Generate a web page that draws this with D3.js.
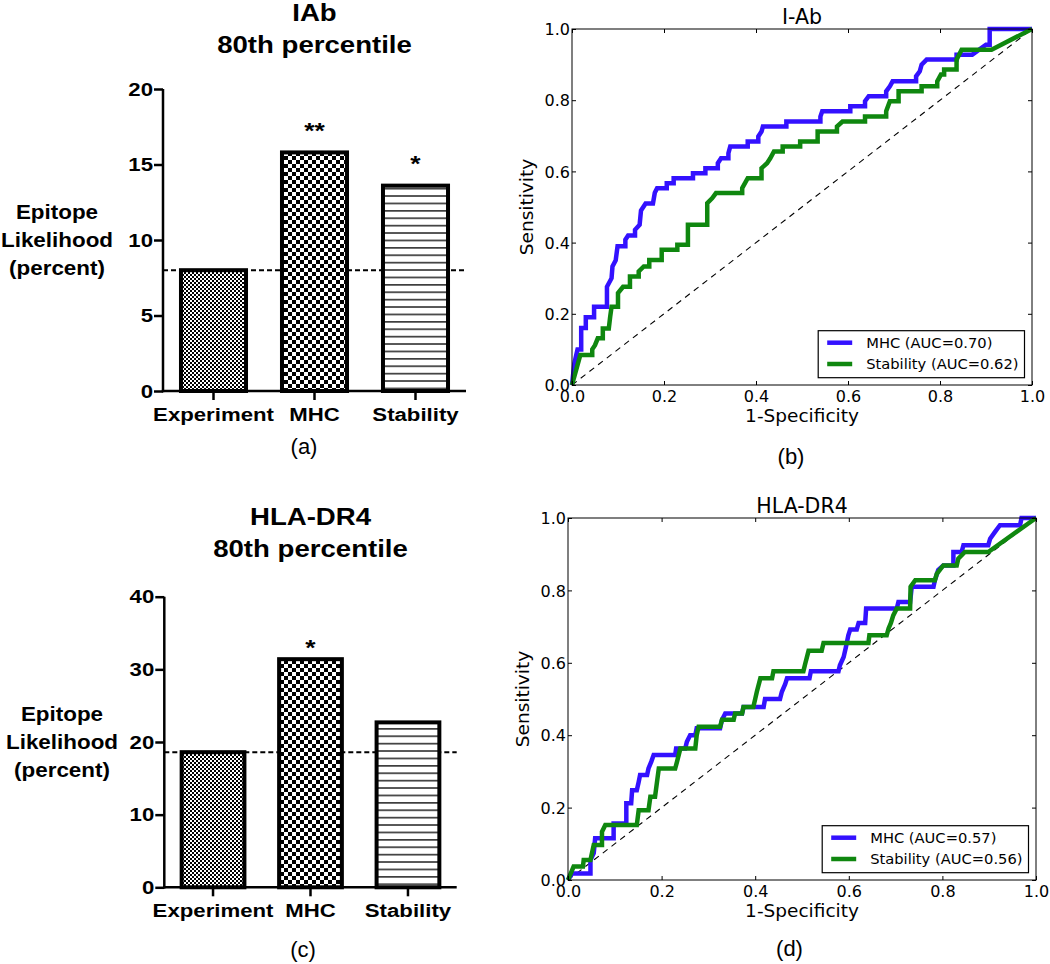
<!DOCTYPE html>
<html>
<head>
<meta charset="utf-8">
<script src="https://cdn.jsdelivr.net/npm/d3@7"></script>
<style>
  html, body { margin: 0; padding: 0; background: #fff; }
  svg { display: block; }
</style>
</head>
<body>
<script>
// ---------------- DATA ----------------
const barCategories = ["Experiment", "MHC", "Stability"];

const iabBarValues = [8.0, 15.8, 13.6];
const iabBaseline = 8.0;
const iabStars = ["", "**", "*"];
const iabBarTicks = [0, 5, 10, 15, 20];
const iabBarMax = 20;
const iabBarTitle = ["IAb", "80th percentile"];

const dr4BarValues = [18.6, 31.4, 22.7];
const dr4Baseline = 18.6;
const dr4Stars = ["", "*", ""];
const dr4BarTicks = [0, 10, 20, 30, 40];
const dr4BarMax = 40;
const dr4BarTitle = ["HLA-DR4", "80th percentile"];

const yLabelLines = ["Epitope", "Likelihood", "(percent)"];

const rocTicks = [0, 0.2, 0.4, 0.6, 0.8, 1.0];
const rocSeriesNames = ["MHC", "Stability"];

const iabRocTitle = "I-Ab";
const iabAuc = ["0.70", "0.62"];
const iabMhcRoc = [[0,0],[0.005,0.06],[0.012,0.10],[0.02,0.10],[0.02,0.16],[0.03,0.16],[0.03,0.19],[0.048,0.19],[0.048,0.22],[0.076,0.22],[0.076,0.276],[0.086,0.30],[0.088,0.333],[0.095,0.35],[0.099,0.39],[0.116,0.39],[0.116,0.408],[0.122,0.42],[0.137,0.42],[0.137,0.436],[0.147,0.45],[0.150,0.49],[0.160,0.51],[0.176,0.51],[0.18,0.54],[0.185,0.553],[0.206,0.553],[0.206,0.567],[0.221,0.567],[0.221,0.581],[0.263,0.581],[0.263,0.595],[0.29,0.595],[0.29,0.609],[0.317,0.609],[0.317,0.623],[0.324,0.637],[0.34,0.637],[0.34,0.651],[0.344,0.67],[0.382,0.67],[0.382,0.684],[0.405,0.684],[0.405,0.698],[0.412,0.712],[0.415,0.726],[0.466,0.726],[0.466,0.74],[0.54,0.74],[0.54,0.754],[0.544,0.769],[0.605,0.769],[0.605,0.783],[0.637,0.783],[0.637,0.797],[0.645,0.811],[0.683,0.811],[0.683,0.825],[0.691,0.839],[0.697,0.853],[0.748,0.853],[0.748,0.867],[0.756,0.881],[0.760,0.900],[0.771,0.914],[0.836,0.914],[0.836,0.928],[0.87,0.928],[0.90,0.956],[0.908,0.956],[0.908,1.0],[1,1]];
const iabStabRoc = [[0,0],[0.018,0.084],[0.044,0.084],[0.044,0.10],[0.05,0.112],[0.056,0.131],[0.067,0.131],[0.067,0.159],[0.08,0.159],[0.083,0.192],[0.086,0.22],[0.10,0.22],[0.10,0.258],[0.111,0.276],[0.126,0.276],[0.126,0.305],[0.145,0.305],[0.145,0.319],[0.156,0.333],[0.168,0.333],[0.168,0.351],[0.195,0.351],[0.195,0.38],[0.229,0.38],[0.229,0.394],[0.252,0.394],[0.252,0.45],[0.294,0.45],[0.294,0.511],[0.305,0.525],[0.313,0.539],[0.370,0.539],[0.370,0.553],[0.382,0.581],[0.412,0.581],[0.412,0.609],[0.424,0.623],[0.431,0.637],[0.439,0.656],[0.458,0.656],[0.458,0.670],[0.496,0.670],[0.496,0.684],[0.534,0.684],[0.534,0.712],[0.576,0.712],[0.576,0.726],[0.588,0.74],[0.637,0.74],[0.637,0.754],[0.683,0.754],[0.683,0.769],[0.691,0.797],[0.710,0.797],[0.710,0.825],[0.760,0.825],[0.760,0.839],[0.794,0.839],[0.794,0.853],[0.802,0.872],[0.809,0.872],[0.809,0.886],[0.836,0.886],[0.836,0.914],[0.847,0.942],[0.912,0.942],[1,1]];

const dr4RocTitle = "HLA-DR4";
const dr4Auc = ["0.57", "0.56"];
const dr4MhcRoc = [[0,0],[0.0085,0.018],[0.048,0.018],[0.048,0.055],[0.055,0.074],[0.058,0.115],[0.0975,0.115],[0.0975,0.156],[0.1246,0.156],[0.1246,0.212],[0.135,0.212],[0.137,0.248],[0.147,0.248],[0.151,0.271],[0.154,0.29],[0.169,0.29],[0.172,0.308],[0.178,0.327],[0.183,0.345],[0.229,0.345],[0.231,0.363],[0.2505,0.363],[0.254,0.382],[0.261,0.40],[0.272,0.40],[0.275,0.419],[0.325,0.419],[0.329,0.442],[0.336,0.46],[0.372,0.46],[0.375,0.478],[0.418,0.478],[0.421,0.50],[0.453,0.50],[0.457,0.52],[0.464,0.541],[0.468,0.557],[0.516,0.557],[0.519,0.577],[0.578,0.577],[0.581,0.593],[0.589,0.616],[0.594,0.644],[0.599,0.676],[0.603,0.692],[0.617,0.692],[0.621,0.710],[0.635,0.710],[0.637,0.75],[0.7025,0.75],[0.706,0.768],[0.731,0.768],[0.7345,0.81],[0.781,0.81],[0.784,0.828],[0.791,0.856],[0.802,0.869],[0.8235,0.869],[0.8235,0.906],[0.841,0.906],[0.845,0.925],[0.898,0.925],[0.902,0.943],[0.912,0.961],[0.923,0.98],[0.966,0.98],[0.969,1.0],[1,1]];
const dr4StabRoc = [[0,0],[0.012,0.037],[0.032,0.037],[0.0335,0.055],[0.048,0.055],[0.055,0.097],[0.0726,0.097],[0.0726,0.133],[0.0797,0.152],[0.147,0.152],[0.151,0.193],[0.172,0.193],[0.176,0.23],[0.186,0.23],[0.194,0.308],[0.229,0.308],[0.233,0.327],[0.24,0.363],[0.272,0.363],[0.275,0.40],[0.279,0.423],[0.325,0.423],[0.329,0.443],[0.354,0.443],[0.357,0.46],[0.372,0.46],[0.375,0.478],[0.396,0.478],[0.40,0.50],[0.4035,0.52],[0.411,0.557],[0.436,0.557],[0.439,0.577],[0.503,0.577],[0.507,0.598],[0.514,0.633],[0.542,0.633],[0.546,0.655],[0.642,0.655],[0.644,0.676],[0.681,0.676],[0.685,0.695],[0.69,0.71],[0.695,0.731],[0.7025,0.75],[0.731,0.75],[0.732,0.81],[0.742,0.828],[0.784,0.828],[0.788,0.846],[0.802,0.869],[0.8306,0.869],[0.834,0.888],[0.848,0.906],[0.898,0.906],[1,1]];

// ---------------- STYLE ----------------
const W = 1050, H = 964;
const BAR_FONT = "'Liberation Sans', Arial, sans-serif";
const ROC_FONT = "'DejaVu Sans', sans-serif";
const SX = 1.2; // horizontal stretch of the bar-panel lettering
const BLUE = "#3311ff", GREEN = "#0f870f";

const svg = d3.select("body").append("svg").attr("width", W).attr("height", H);
svg.append("rect").attr("width", W).attr("height", H).attr("fill", "#fff");

// patterns
const defs = svg.append("defs");
const pExp = defs.append("pattern").attr("id", "pExp").attr("patternUnits", "userSpaceOnUse").attr("width", 4).attr("height", 4);
pExp.append("rect").attr("width", 4).attr("height", 4).attr("fill", "#fff");
pExp.append("rect").attr("width", 2).attr("height", 2).attr("fill", "#000");
pExp.append("rect").attr("x", 2).attr("y", 2).attr("width", 2).attr("height", 2).attr("fill", "#000");
const pMhc = defs.append("pattern").attr("id", "pMhc").attr("patternUnits", "userSpaceOnUse").attr("width", 8).attr("height", 8);
pMhc.append("rect").attr("width", 8).attr("height", 8).attr("fill", "#fff");
pMhc.append("rect").attr("width", 4).attr("height", 4).attr("fill", "#000");
pMhc.append("rect").attr("x", 4).attr("y", 4).attr("width", 4).attr("height", 4).attr("fill", "#000");
const pStab = defs.append("pattern").attr("id", "pStab").attr("patternUnits", "userSpaceOnUse").attr("width", 8).attr("height", 7.4);
pStab.append("rect").attr("width", 8).attr("height", 7.4).attr("fill", "#fff");
pStab.append("rect").attr("y", 3).attr("width", 8).attr("height", 1.3).attr("fill", "#000");
const patternIds = ["pExp", "pMhc", "pStab"];

function txt(g, x, y, s, o) {
  return g.append("text")
    .attr("transform", `translate(${x},${y}) scale(${o.sx || 1},1)` + (o.rotate ? ` rotate(${o.rotate})` : ""))
    .attr("text-anchor", o.anchor || "middle")
    .attr("font-family", o.family)
    .attr("font-size", o.size)
    .attr("font-weight", o.weight || "normal")
    .attr("fill", "#000")
    .text(s);
}

// ---------------- BAR PANELS ----------------
function drawBarPanel(cfg) {
  const g = svg.append("g");
  const L = cfg.layout;
  const y = d3.scaleLinear().domain([0, cfg.max]).range([L.y0, L.yTop]);
  const x = d3.scaleBand().domain(barCategories).range([L.axisX, L.axisRight])
    .paddingInner(0.356).paddingOuter(0.178);

  // baseline dashed line (behind bars)
  g.append("line")
    .attr("x1", L.axisX).attr("x2", L.axisRight)
    .attr("y1", y(cfg.baseline)).attr("y2", y(cfg.baseline))
    .attr("stroke", "#000").attr("stroke-width", 2).attr("stroke-dasharray", "5,3");

  // bars
  g.selectAll("rect.bar").data(cfg.values).join("rect").attr("class", "bar")
    .attr("x", (d, i) => x(barCategories[i]))
    .attr("y", d => y(d))
    .attr("width", x.bandwidth())
    .attr("height", d => y(0) - y(d))
    .attr("fill", (d, i) => `url(#${patternIds[i]})`)
    .attr("stroke", "#000").attr("stroke-width", 4);

  // axes
  const ya = g.append("g").attr("transform", `translate(${L.axisX},0)`)
    .call(d3.axisLeft(y).tickValues(cfg.ticks).tickSize(9).tickSizeOuter(0).tickFormat(""));
  const xa = g.append("g").attr("transform", `translate(0,${L.y0})`)
    .call(d3.axisBottom(x).tickSize(9).tickSizeOuter(0).tickFormat(""));
  [ya, xa].forEach(a => {
    a.selectAll("path, line").attr("stroke", "#000").attr("stroke-width", 2.5);
  });
  ya.select("path.domain").attr("d", `M0,${L.y0 + 1.25}V${L.yTop}`);
  xa.select("path.domain").attr("d", `M${L.axisX - 1.25},0H${L.axisRight}`);

  // tick labels
  cfg.ticks.forEach(t => txt(g, L.axisX - 10, y(t) + 6.6, String(t),
    { family: BAR_FONT, size: 18.5, weight: "bold", anchor: "end", sx: SX }));
  barCategories.forEach(c => txt(g, x(c) + x.bandwidth() / 2, L.y0 + 29.5, c,
    { family: BAR_FONT, size: 18.5, weight: "bold", sx: SX }));

  // significance stars
  cfg.stars.forEach((s, i) => {
    if (!s) return;
    txt(g, x(barCategories[i]) + x.bandwidth() / 2, y(cfg.values[i]) - cfg.starGap, s,
      { family: BAR_FONT, size: 22, weight: "bold", sx: SX });
  });

  // y label
  const ymid = (L.y0 + L.yTop) / 2;
  yLabelLines.forEach((s, i) => txt(g, L.ylabX, ymid + 7 + (i - 1) * 28, s,
    { family: BAR_FONT, size: 19.5, weight: "bold", sx: 1.15 }));

  // title
  const tx = (L.axisX + L.axisRight) / 2;
  txt(g, tx, L.title1Y, cfg.title[0], { family: BAR_FONT, size: 23, weight: "bold", sx: 1.2 });
  txt(g, tx, L.title2Y, cfg.title[1], { family: BAR_FONT, size: 23, weight: "bold", sx: 1.2 });

  // panel letter
  txt(g, L.letterX, L.letterY, cfg.letter, { family: BAR_FONT, size: 22 });
}

drawBarPanel({
  values: iabBarValues, baseline: iabBaseline, stars: iabStars, ticks: iabBarTicks, max: iabBarMax,
  title: iabBarTitle, letter: "(a)", starGap: 14.5,
  layout: { axisX: 163, axisRight: 466, y0: 391, yTop: 89, ylabX: 57, title1Y: 21, title2Y: 53.3, letterX: 304, letterY: 453.5 }
});
drawBarPanel({
  values: dr4BarValues, baseline: dr4Baseline, stars: dr4Stars, ticks: dr4BarTicks, max: dr4BarMax,
  title: dr4BarTitle, letter: "(c)", starGap: 3.7,
  layout: { axisX: 164.3, axisRight: 456.7, y0: 887.3, yTop: 596.7, ylabX: 62, title1Y: 525, title2Y: 556.7, letterX: 303, letterY: 957 }
});

// ---------------- ROC PANELS ----------------
function drawRocPanel(cfg) {
  const g = svg.append("g");
  const F = cfg.frame;
  const x = d3.scaleLinear().domain([0, 1]).range([F.x0, F.x1]);
  const y = d3.scaleLinear().domain([0, 1]).range([F.y1, F.y0]);

  // chance diagonal
  g.append("line")
    .attr("x1", x(0)).attr("y1", y(0)).attr("x2", x(1)).attr("y2", y(1))
    .attr("stroke", "#000").attr("stroke-width", 1.1).attr("stroke-dasharray", "6,5");

  const line = d3.line().x(d => x(d[0])).y(d => y(d[1]));
  const series = [cfg.mhc, cfg.stab];
  const colors = [BLUE, GREEN];
  series.forEach((s, i) => {
    g.append("path").attr("d", line(s)).attr("fill", "none")
      .attr("stroke", colors[i]).attr("stroke-width", 4.5)
      .attr("stroke-linejoin", "miter").attr("stroke-linecap", "butt");
  });

  // frame
  g.append("rect").attr("x", F.x0).attr("y", F.y0).attr("width", F.x1 - F.x0).attr("height", F.y1 - F.y0)
    .attr("fill", "none").attr("stroke", "#000").attr("stroke-width", 1);

  const fmt = d3.format(".1f");
  const axB = g.append("g").attr("transform", `translate(0,${F.y1})`)
    .call(d3.axisBottom(x).tickValues(rocTicks).tickSize(-4).tickSizeOuter(0).tickPadding(6).tickFormat(fmt));
  const axT = g.append("g").attr("transform", `translate(0,${F.y0})`)
    .call(d3.axisTop(x).tickValues(rocTicks).tickSize(-4).tickSizeOuter(0).tickFormat(""));
  const axL = g.append("g").attr("transform", `translate(${F.x0},0)`)
    .call(d3.axisLeft(y).tickValues(rocTicks).tickSize(-4).tickSizeOuter(0).tickPadding(2).tickFormat(fmt));
  const axR = g.append("g").attr("transform", `translate(${F.x1},0)`)
    .call(d3.axisRight(y).tickValues(rocTicks).tickSize(-4).tickSizeOuter(0).tickFormat(""));
  [axB, axT, axL, axR].forEach(a => {
    a.select("path.domain").remove();
    a.selectAll("line").attr("stroke", "#000").attr("stroke-width", 1);
    a.selectAll("text").attr("font-family", ROC_FONT).attr("font-size", 16).attr("fill", "#000");
  });
  axL.selectAll("text").attr("dy", "0.36em");

  // labels
  const cx = (F.x0 + F.x1) / 2;
  txt(g, cx, F.y0 - 5.5, cfg.title, { family: ROC_FONT, size: 20.5 });
  txt(g, cx, F.y1 + 36.5, "1-Specificity", { family: ROC_FONT, size: 18.5 });
  txt(g, F.x0 - 39, (F.y0 + F.y1) / 2, "Sensitivity", { family: ROC_FONT, size: 18.5, rotate: -90 });

  // legend
  const lg = g.append("g");
  const labels = rocSeriesNames.map((n, i) => `${n} (AUC=${cfg.auc[i]})`);
  const texts = labels.map((l, i) => lg.append("text").attr("font-family", ROC_FONT).attr("font-size", 14.7)
    .attr("fill", "#000").text(l));
  const tw = d3.max(texts, t => t.node().getComputedTextLength());
  const bw = 48 + tw + 6, bh = 47;
  const bx = F.x1 - 7.5 - bw, by = F.y1 - 7.3 - bh;
  lg.insert("rect", "text").attr("x", bx).attr("y", by).attr("width", bw).attr("height", bh)
    .attr("fill", "#fff").attr("stroke", "#000").attr("stroke-width", 1.2);
  [12, 33.3].forEach((dy, i) => {
    lg.append("line").attr("x1", bx + 9).attr("x2", bx + 34).attr("y1", by + dy).attr("y2", by + dy)
      .attr("stroke", colors[i]).attr("stroke-width", 4.5);
    texts[i].attr("x", bx + 48).attr("y", by + dy).attr("dy", "0.36em");
  });

  txt(g, cfg.letterX, cfg.letterY, cfg.letter, { family: BAR_FONT, size: 22 });
}

drawRocPanel({
  frame: { x0: 572, x1: 1032, y0: 29, y1: 385 },
  mhc: iabMhcRoc, stab: iabStabRoc, auc: iabAuc, title: iabRocTitle,
  letter: "(b)", letterX: 791, letterY: 464
});
drawRocPanel({
  frame: { x0: 568, x1: 1036, y0: 518, y1: 880 },
  mhc: dr4MhcRoc, stab: dr4StabRoc, auc: dr4Auc, title: dr4RocTitle,
  letter: "(d)", letterX: 789.5, letterY: 956
});
</script>
</body>
</html>
